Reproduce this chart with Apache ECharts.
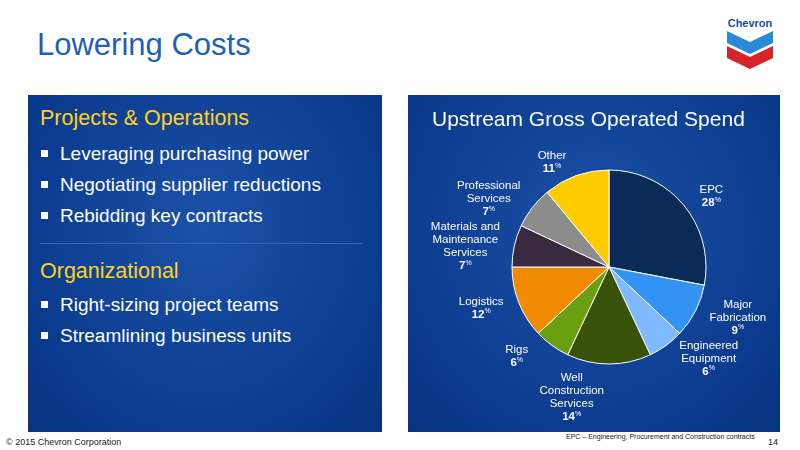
<!DOCTYPE html>
<html>
<head>
<meta charset="utf-8">
<script src="https://cdn.jsdelivr.net/npm/echarts@6/dist/echarts.min.js"></script>
<style>
  body { margin: 0; width: 800px; height: 450px; background: #fff; font-family: "Liberation Sans", Arial, sans-serif; position: relative; overflow: hidden; }
  .title { position: absolute; left: 37px; top: 27px; font-size: 31px; color: #1f5fb8; }
  .panel { position: absolute; top: 95px; height: 337px; background: radial-gradient(ellipse at 50% 40%, #1b52a8 0%, #0b3b8f 70%, #08337f 100%); }
  #left { left: 28px; width: 354px; }
  #right { left: 408px; width: 372px; }
  .head { position: absolute; left: 12px; color: #ffd21e; font-size: 21.5px; }
  .item { position: absolute; left: 12px; color: #fff; font-size: 19px; }
  .item:before { content: ""; display: inline-block; width: 7px; height: 7px; background: #fff; margin: 0 12px 3px 1px; }
  .rule { position: absolute; left: 12px; width: 322px; top: 148px; border-top: 1px solid #3a66b0; }
  #chart { position: absolute; left: 0; top: 0; width: 372px; height: 337px; }
  .foot { position: absolute; font-size: 9px; color: #222; }
</style>
</head>
<body>
<div class="title">Lowering Costs</div>
<svg style="position:absolute;left:723px;top:13px" width="54" height="56" viewBox="0 0 54 56">
  <text x="27" y="14" text-anchor="middle" font-family="Liberation Sans" font-weight="bold" font-size="11" fill="#1a4fa0">Chevron</text>
  <path d="M4 18 L27 29 L50 18 L50 30 L27 41 L4 30 Z" fill="#2a8ad8"/>
  <path d="M4 33 L27 44 L50 33 L50 45 L27 56 L4 45 Z" fill="#d8232a"/>
</svg>
<div class="panel" id="left">
  <div class="head" style="top:11px">Projects &amp; Operations</div>
  <div class="item" style="top:48px">Leveraging purchasing power</div>
  <div class="item" style="top:79px">Negotiating supplier reductions</div>
  <div class="item" style="top:110px">Rebidding key contracts</div>
  <div class="rule"></div>
  <div class="head" style="top:164px">Organizational</div>
  <div class="item" style="top:199px">Right-sizing project teams</div>
  <div class="item" style="top:230px">Streamlining business units</div>
</div>
<div class="panel" id="right"><div id="chart"></div></div>
<div class="foot" style="left:6px;top:437px">© 2015 Chevron Corporation</div>
<div class="foot" style="left:566px;top:433px;font-size:7px">EPC – Engineering, Procurement and Construction contracts</div>
<div class="foot" style="left:768px;top:437px">14</div>
<script>
const categories = ['EPC', 'Major\nFabrication', 'Engineered\nEquipment', 'Well\nConstruction\nServices', 'Rigs', 'Logistics', 'Materials and\nMaintenance\nServices', 'Professional\nServices', 'Other']
const values = [28, 9, 6, 14, 6, 12, 7, 7, 11]
const colors = ['#0a2a57', '#3393f5', '#7fb9ff', '#385209', '#6aa010', '#f08a00', '#3a2a40', '#8c8c8c', '#ffcc00']

const myChart = echarts.init(document.getElementById('chart'))
const option = {
  title: {
    text: 'Upstream Gross Operated Spend',
    left: 19, top: 10,
    textStyle: { color: '#fff', fontSize: 21, fontWeight: 'normal', fontFamily: 'Liberation Sans' }
  },
  series: [{
    type: 'pie',
    center: [201, 172],
    radius: 97,
    startAngle: 90,
    clockwise: true,
    animation: false,
    itemStyle: { borderColor: '#fff', borderWidth: 1 },
    label: {
      show: true,
      position: 'outside',
      color: '#fff',
      fontSize: 11.5,
      lineHeight: 13,
      fontFamily: 'Liberation Sans',
      formatter: p => '{n|' + p.name + '}\n{v|' + p.value + '}{s|%}',
      rich: {
        n: { align: 'center', fontSize: 11.5, color: '#fff', lineHeight: 13 },
        v: { align: 'center', fontWeight: 'bold', fontSize: 11.5, color: '#fff' },
        s: { align: 'center', fontSize: 7, color: '#fff', verticalAlign: 'top' }
      }
    },
    labelLine: { show: false, length: 14, length2: 0 },
    data: categories.map((c, i) => ({ name: c, value: values[i], itemStyle: { color: colors[i] } }))
  }]
}
myChart.setOption(option)
</script>
</body>
</html>
